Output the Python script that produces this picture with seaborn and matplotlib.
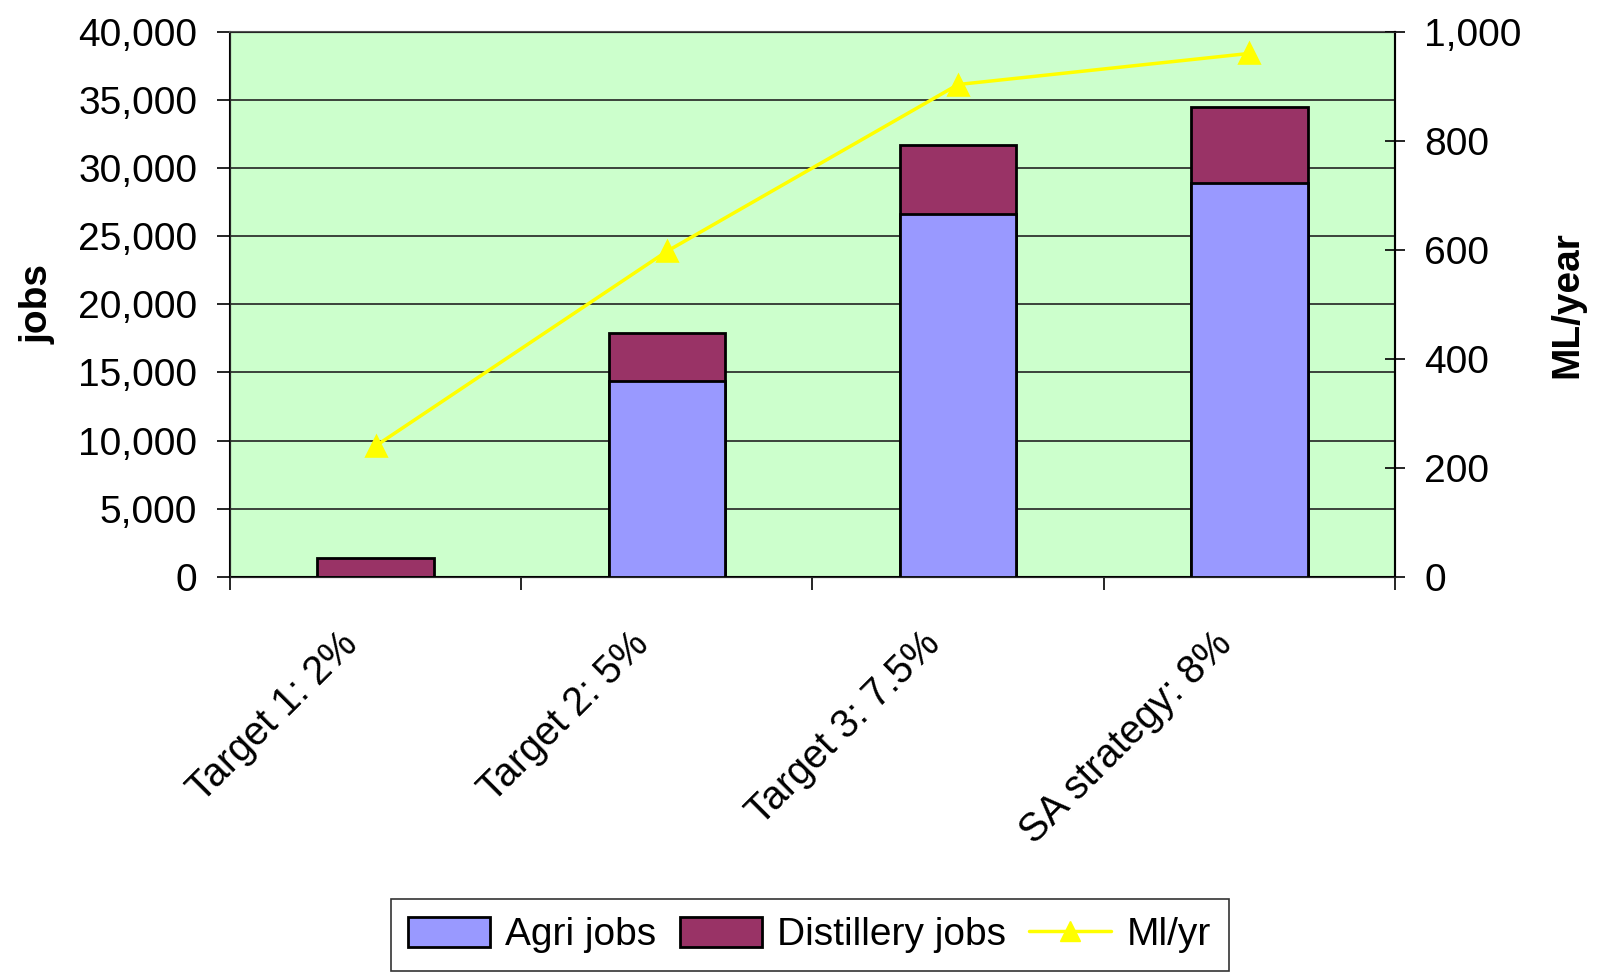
import matplotlib
matplotlib.use("Agg")
import matplotlib.pyplot as plt
import matplotlib.transforms as mtransforms
from matplotlib.patches import Patch
from matplotlib.lines import Line2D
from matplotlib.ticker import FuncFormatter, FixedLocator
import seaborn as sns
import numpy as np

# values
categories = ['Target 1: 2%', 'Target 2: 5%', 'Target 3: 7.5%', 'SA strategy: 8%']
agri_jobs = [0, 14400, 26600, 28900]
distillery_jobs = [1350, 3500, 5100, 5600]
ml_per_year = [240, 597, 903, 960]

agri_color = '#9999FF'
dist_color = '#993366'
line_color = '#FFFF00'

sns.set_style('white')
plt.rcParams['font.family'] = ['Liberation Sans', 'DejaVu Sans']
plt.rcParams['text.color'] = 'black'
plt.rcParams['axes.labelcolor'] = 'black'
plt.rcParams['xtick.color'] = 'black'
plt.rcParams['ytick.color'] = 'black'

fig = plt.figure(figsize=(15.97, 9.76), dpi=100)
ax = fig.add_axes([0.144, 0.409, 0.7295, 0.5586])
ax.set_facecolor('#CCFFCC')

totals = [a + d for a, d in zip(agri_jobs, distillery_jobs)]

# stacked bars: draw totals (distillery colour) then agri on top
sns.barplot(x=categories, y=totals, color=dist_color, edgecolor='black',
            linewidth=2, width=0.4, saturation=1, ax=ax, zorder=3)
sns.barplot(x=categories, y=agri_jobs, color=agri_color, edgecolor='black',
            linewidth=2, width=0.4, saturation=1, ax=ax, zorder=3)

ax.set_ylim(0, 40000)
ax.set_xlim(-0.5, len(categories) - 0.5)
ax.set_yticks(np.arange(0, 40001, 5000))
ax.yaxis.set_major_formatter(FuncFormatter(lambda v, p: f'{int(v):,}'))
ax.grid(axis='y', color='#222222', linewidth=1.2, zorder=0)
ax.set_axisbelow(True)
ax.tick_params(axis='y', labelsize=28, length=9.5, width=1.2, direction='out',
               left=True, pad=14)
ax.set_ylabel('jobs', fontsize=28, fontweight='bold', labelpad=16)
ax.set_xlabel('')

# category ticks at boundaries, labels at centres
ax.xaxis.set_minor_locator(FixedLocator(np.arange(-0.5, len(categories), 1.0)))
ax.tick_params(axis='x', which='minor', length=9, width=1.2, bottom=True)
ax.tick_params(axis='x', which='major', length=0, labelsize=28.5, pad=50)
shift = mtransforms.ScaledTranslation(-16 / 100, 0, fig.dpi_scale_trans)
for lab in ax.get_xticklabels():
    lab.set_rotation(45)
    lab.set_ha('right')
    lab.set_va('baseline')
    lab.set_rotation_mode('anchor')
    lab.set_transform(lab.get_transform() + shift)

for s in ax.spines.values():
    s.set_color('#555555')
    s.set_linewidth(1.5)
ax.spines['left'].set_color('black')
ax.spines['bottom'].set_color('black')

ax2 = ax.twinx()
sns.pointplot(x=categories, y=ml_per_year, color=line_color, markers='^',
              markersize=15, linewidth=2.5, ax=ax2, zorder=5)
ax2.set_ylim(0, 1000)
ax2.set_xlim(-0.5, len(categories) - 0.5)
ax2.set_yticks(np.arange(0, 1001, 200))
ax2.yaxis.set_major_formatter(FuncFormatter(lambda v, p: f'{int(v):,}'))
ax2.tick_params(axis='y', labelsize=28, length=14, width=1.2, direction='inout',
                right=True, pad=14)
ax2.set_ylabel('ML/year', fontsize=28, fontweight='bold', labelpad=20)
ax2.spines['right'].set_color('black')
ax2.spines['right'].set_linewidth(1.5)
ax2.grid(False)

handles = [
    Patch(facecolor=agri_color, edgecolor='black', linewidth=2),
    Patch(facecolor=dist_color, edgecolor='black', linewidth=2),
    Line2D([0], [0], color=line_color, linewidth=2.5, marker='^', markersize=15),
]
leg = fig.legend(handles, ['Agri jobs', 'Distillery jobs', 'Ml/yr'],
                 loc='center', bbox_to_anchor=(0.507, 0.042), ncol=3,
                 fontsize=28, frameon=True, fancybox=False,
                 handlelength=2.1, handleheight=0.8, handletextpad=0.4,
                 columnspacing=0.6, borderpad=0.45)
leg.get_frame().set_edgecolor('black')
leg.get_frame().set_linewidth(1.2)

fig.savefig('out.png', dpi=100)
